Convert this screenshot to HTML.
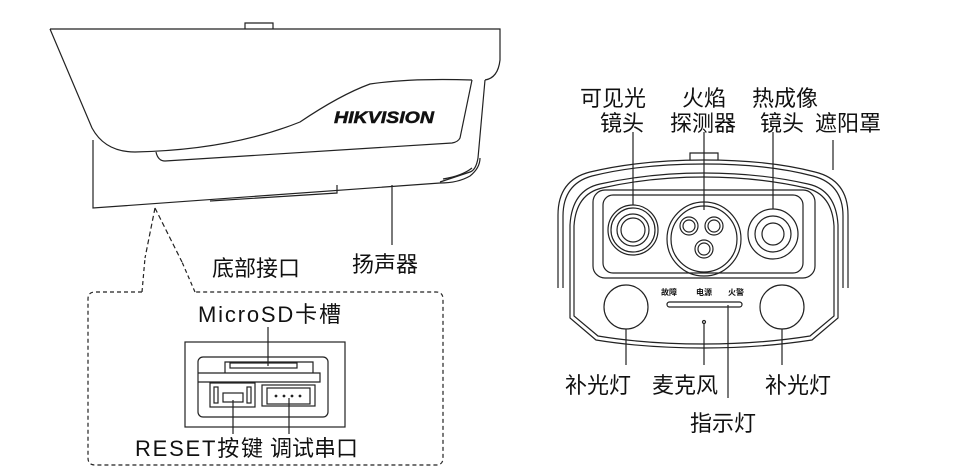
<!DOCTYPE html>
<html><head><meta charset="utf-8"><style>
html,body{margin:0;padding:0;background:#fff;}
svg{display:block;}
text{font-family:"Liberation Sans","Noto Sans CJK SC",sans-serif;fill:#111;}
.l{font-size:22px;}
</style></head><body>
<svg width="978" height="475" viewBox="0 0 978 475" xmlns="http://www.w3.org/2000/svg" fill="none" stroke="#222" stroke-width="1.2">
<!-- LEFT CAMERA -->
<path d="M245,29 V23 H273 V29"/>
<path d="M50,29 H500 V60 Q498,78 485,80 M50,29 L92,128 Q105,152 135,152 Q230,150 300,122 Q340,95 370,84 Q410,78 472,80"/>
<path d="M472,80 L460,138 Q458,142 452,143 L165,161 Q158,161 156,152"/>
<path d="M485,80 L478,158 Q476,170 470,172 L440,182"/>
<path d="M93,140 V208 L440,183"/>
<path d="M440,183 Q458,183 470,176 Q480,168 480,158"/>
<path d="M443,179 Q462,176 472,168"/>
<path d="M210,201 L337,193 V185"/>
<text x="334" y="123" font-size="17" font-weight="900" font-style="italic" stroke="#111" stroke-width="0.5" textLength="100" lengthAdjust="spacingAndGlyphs">HIKVISION</text>
<path d="M392,185 V245"/>
<text class="l" x="352" y="272" stroke="none">扬声器</text>
<path d="M155,208 L145,258 M155,208 L182,262" stroke-dasharray="5,3"/>
<text class="l" x="212" y="276" stroke="none">底部接口</text>
<path d="M142,292 H95 Q88,292 88,299 V458 Q88,465 95,465 H436 Q443,465 443,458 V299 Q443,292 436,292 H195 M142,292 L145,258 M195,292 L182,262" stroke-dasharray="4,3"/>
<text class="l" x="198" y="322" stroke="none" textLength="143">MicroSD卡槽</text>
<path d="M268,327 V366"/>
<rect x="185" y="342" width="160" height="85"/>
<rect x="198" y="357" width="130" height="60" rx="5"/>
<path d="M225,373 V362 H313 V373"/>
<rect x="230" y="363" width="67" height="5"/>
<path d="M198,373 H320 V382 H198"/>
<rect x="210" y="383" width="45" height="24"/>
<rect x="214" y="387" width="4" height="16"/><rect x="247" y="387" width="4" height="16"/>
<rect x="223" y="393" width="20" height="9"/>
<rect x="262" y="385" width="53" height="21"/><rect x="267" y="388" width="43" height="16"/>
<g fill="#222" stroke="none"><circle cx="276" cy="396" r="1.4"/><circle cx="284" cy="396" r="1.4"/><circle cx="292" cy="396" r="1.4"/><circle cx="300" cy="396" r="1.4"/></g>
<path d="M233,400 V434 M289,398 V434"/>
<text class="l" x="135" y="456" stroke="none" textLength="128">RESET按键</text>
<text class="l" x="270" y="456" stroke="none">调试串口</text>

<!-- RIGHT CAMERA -->
<path d="M690,160 V153 H718 V160"/>
<path d="M558,288 V215 Q558,180 590,172 Q640,160 704,160 Q770,160 815,172 Q848,180 848,215 V288"/>
<path d="M563,288 V216 Q563,184 592,176 Q640,164 704,164 Q768,164 813,176 Q843,184 843,216 V288"/>
<path d="M570,225 Q572,190 600,184 Q650,173 704,173 Q760,173 808,184 Q836,190 838,225 V318 L812,340 Q760,348 704,348 Q645,348 596,340 L570,318 Z"/>
<path d="M574,226 Q576,194 602,188 Q650,177 704,177 Q758,177 806,188 Q832,194 834,226 V316 L810,336 Q760,344 704,344 Q646,344 598,336 L574,316 Z"/>
<rect x="593" y="190" width="222" height="88" rx="12"/>
<rect x="603" y="195" width="200" height="78" rx="10"/>
<circle cx="633" cy="230" r="25"/><circle cx="633" cy="230" r="22"/><circle cx="633" cy="230" r="16"/><circle cx="633" cy="230" r="12"/>
<circle cx="704" cy="239" r="37"/><circle cx="704" cy="239" r="33"/>
<circle cx="689" cy="226" r="9"/><circle cx="689" cy="226" r="6"/>
<circle cx="714" cy="226" r="9"/><circle cx="714" cy="226" r="6"/>
<circle cx="704" cy="249" r="9"/><circle cx="704" cy="249" r="6"/>
<circle cx="773" cy="234" r="25"/><circle cx="773" cy="234" r="18"/><circle cx="773" cy="234" r="11"/>
<circle cx="626" cy="307" r="22"/><circle cx="782" cy="307" r="22"/>
<g stroke="none" font-size="8" font-weight="bold"><text x="661" y="295">故障</text><text x="696" y="295">电源</text><text x="728" y="295">火警</text></g>
<rect x="667" y="302" width="75" height="5" rx="2.5"/>
<circle cx="704" cy="322" r="1.5"/>
<path d="M633,132 V205 M704,132 V210 M773,132 V209 M833,140 V170"/>
<path d="M626,329 V365 M704,324 V365 M728,305 V398 M782,329 V365"/>
<g stroke="none">
<text class="l" x="580" y="106">可见光</text><text class="l" x="600" y="131">镜头</text>
<text class="l" x="682" y="106">火焰</text><text class="l" x="670" y="131">探测器</text>
<text class="l" x="752" y="106">热成像</text><text class="l" x="760" y="131">镜头</text>
<text class="l" x="815" y="131">遮阳罩</text>
<text class="l" x="565" y="393">补光灯</text><text class="l" x="652" y="393">麦克风</text><text class="l" x="765" y="393">补光灯</text>
<text class="l" x="690" y="431">指示灯</text>
</g>
</svg>
</body></html>
